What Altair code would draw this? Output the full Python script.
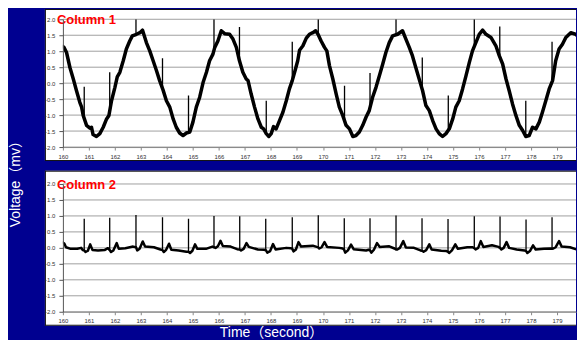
import altair as alt
import pandas as pd

BG = "#000090"

# ---------------- data ----------------
x_ticks = list(range(160, 180))
y_ticks = [-2.0, -1.5, -1.0, -0.5, 0.0, 0.5, 1.0, 1.5, 2.0]

# Column 1 : slow trace
t1 = [160.00, 160.04, 160.14, 160.27, 160.40, 160.52, 160.65, 160.72, 160.78, 160.91,
      161.04, 161.10, 161.16, 161.29, 161.42, 161.55, 161.68, 161.77, 161.87, 162.00,
      162.09, 162.19, 162.32, 162.44, 162.57, 162.67, 162.83, 162.96, 163.06, 163.15,
      163.21, 163.34, 163.47, 163.60, 163.72, 163.85, 163.98, 164.11, 164.24, 164.36,
      164.49, 164.62, 164.75, 164.88, 165.00, 165.13, 165.26, 165.39, 165.52, 165.64,
      165.77, 165.84, 165.96, 166.09, 166.22, 166.41, 166.54, 166.67, 166.79, 166.92,
      167.05, 167.12, 167.24, 167.37, 167.50, 167.63, 167.72, 167.82, 167.92, 168.01,
      168.10, 168.20, 168.33, 168.46, 168.59, 168.71, 168.82, 168.91, 169.03, 169.10,
      169.23, 169.36, 169.48, 169.61, 169.72, 169.81, 169.93, 170.06, 170.15, 170.25,
      170.38, 170.51, 170.63, 170.76, 170.89, 171.02, 171.15, 171.27, 171.40, 171.53,
      171.66, 171.78, 171.91, 172.04, 172.17, 172.30, 172.42, 172.55, 172.68, 172.87,
      173.06, 173.19, 173.32, 173.44, 173.57, 173.70, 173.83, 173.96, 174.09, 174.22,
      174.35, 174.47, 174.60, 174.73, 174.86, 174.99, 175.11, 175.24, 175.37, 175.50,
      175.63, 175.75, 175.88, 176.01, 176.14, 176.27, 176.46, 176.65, 176.78, 176.91,
      177.04, 177.16, 177.29, 177.42, 177.55, 177.68, 177.80, 177.93, 178.06, 178.19,
      178.32, 178.44, 178.57, 178.70, 178.83, 178.95, 179.08, 179.21, 179.34, 179.53,
      179.72, 179.85, 180.00]
v1 = [1.15, 1.12, 0.96, 0.49, 0.13, -0.23, -0.60, -0.75, -1.01, -1.32,
      -1.41, -1.38, -1.61, -1.67, -1.58, -1.38, -1.12, -1.01, -0.55, -0.13,
      0.20, 0.34, 0.70, 1.07, 1.32, 1.48, 1.53, 1.58, 1.66, 1.43,
      1.27, 1.01, 0.70, 0.39, 0.08, -0.21, -0.55, -0.75, -1.12, -1.38,
      -1.56, -1.64, -1.56, -1.53, -1.22, -0.75, -0.44, 0.02, 0.34, 0.70,
      0.91, 1.12, 1.32, 1.64, 1.55, 1.53, 1.38, 1.12, 0.70, 0.34,
      0.13, 0.08, -0.34, -0.75, -1.12, -1.38, -1.43, -1.58, -1.67, -1.58,
      -1.36, -1.43, -1.17, -0.91, -0.55, -0.18, 0.08, 0.34, 0.70, 1.03,
      1.17, 1.41, 1.53, 1.58, 1.64, 1.53, 1.32, 1.12, 1.01, 0.55,
      0.13, -0.34, -0.75, -1.01, -1.32, -1.43, -1.67, -1.64, -1.53, -1.32,
      -1.06, -0.86, -0.44, -0.13, 0.23, 0.60, 0.96, 1.27, 1.48, 1.53,
      1.64, 1.38, 1.12, 0.86, 0.49, 0.13, -0.23, -0.70, -0.86, -1.17,
      -1.43, -1.58, -1.67, -1.58, -1.43, -1.12, -0.75, -0.55, -0.18, 0.23,
      0.65, 1.01, 1.27, 1.53, 1.66, 1.53, 1.43, 1.17, 0.86, 0.60,
      0.13, -0.23, -0.65, -1.01, -1.32, -1.48, -1.67, -1.64, -1.38, -1.43,
      -1.22, -0.91, -0.55, -0.18, 0.08, 0.70, 1.07, 1.22, 1.43, 1.58,
      1.53, 1.43, 1.12]

# Column 1 : spikes
s1_t = [160.82, 161.80, 162.81, 163.83, 164.83, 165.81, 166.79, 167.82, 168.82, 169.82,
        170.83, 171.81, 172.81, 173.82, 174.82, 175.82, 176.80, 177.80, 178.81, 179.82]
s1_base = [-1.10, -0.90, 1.53, -0.17, -1.54, 1.00, 0.70, -1.58, 0.08, 1.52,
           -1.15, -0.78, 1.52, -0.20, -1.48, 1.15, 0.82, -1.67, 0.05, 1.45]
s1_top = [-0.11, 0.34, 2.00, 0.78, -0.39, 2.00, 1.76, -0.55, 1.30, 2.00,
          -0.08, 0.32, 2.00, 0.80, -0.39, 2.00, 1.77, -0.55, 1.30, 2.00]

# Column 2 : slow trace
t2 = [160.00, 160.05, 160.12, 160.30, 160.55, 160.70, 160.77, 160.82, 160.87, 160.96,
      161.05, 161.14, 161.35, 161.60, 161.73, 161.80, 161.85, 161.94, 162.07, 162.15,
      162.40, 162.70, 162.81, 162.86, 162.95, 163.07, 163.16, 163.50, 163.75, 163.83,
      163.88, 163.97, 164.08, 164.17, 164.45, 164.75, 164.83, 164.89, 164.98, 165.08,
      165.17, 165.50, 165.75, 165.81, 165.87, 165.96, 166.06, 166.15, 166.45, 166.70,
      166.80, 166.85, 166.95, 167.06, 167.15, 167.50, 167.75, 167.81, 167.86, 167.97,
      168.08, 168.18, 168.59, 168.76, 168.82, 168.87, 168.96, 169.06, 169.16, 169.61,
      169.76, 169.81, 169.86, 169.95, 170.06, 170.16, 170.63, 170.76, 170.81, 170.86,
      170.96, 171.08, 171.18, 171.66, 171.76, 171.81, 171.86, 171.96, 172.08, 172.18,
      172.55, 172.75, 172.81, 172.86, 172.96, 173.09, 173.19, 173.50, 173.75, 173.81,
      173.87, 173.97, 174.09, 174.18, 174.55, 174.75, 174.80, 174.85, 174.96, 175.09,
      175.19, 175.55, 175.76, 175.82, 175.87, 175.97, 176.07, 176.17, 176.50, 176.75,
      176.81, 176.86, 176.95, 177.06, 177.16, 177.45, 177.75, 177.81, 177.86, 177.96,
      178.08, 178.18, 178.50, 178.76, 178.81, 178.86, 178.95, 179.08, 179.18, 179.50,
      179.75, 179.82, 179.87, 179.97, 180.00]
v2 = [0.17, 0.14, 0.02, -0.03, -0.03, 0.00, -0.07, -0.08, -0.13, -0.09,
      0.11, -0.07, -0.08, -0.07, -0.01, -0.07, -0.13, -0.08, 0.15, -0.03,
      -0.01, 0.04, 0.02, -0.08, -0.03, 0.20, 0.04, 0.02, -0.05, -0.07,
      -0.13, -0.06, 0.13, -0.06, -0.08, -0.12, -0.12, -0.16, -0.09, 0.11,
      -0.03, -0.03, 0.04, 0.02, 0.00, 0.05, 0.22, 0.06, 0.04, -0.04,
      -0.05, -0.08, -0.03, 0.15, 0.03, -0.05, -0.06, -0.08, -0.15, -0.10,
      0.12, -0.05, 0.00, -0.01, -0.03, -0.11, -0.05, 0.18, 0.04, 0.07,
      0.03, 0.02, -0.02, 0.02, 0.18, 0.03, 0.00, -0.02, -0.05, -0.15,
      -0.08, 0.10, -0.04, -0.08, -0.06, -0.08, -0.15, -0.06, 0.15, 0.03,
      0.05, -0.02, -0.05, -0.05, 0.00, 0.21, 0.01, 0.00, -0.08, -0.09,
      -0.12, -0.07, 0.11, -0.05, -0.09, -0.10, -0.12, -0.16, -0.08, 0.11,
      -0.03, 0.02, 0.02, -0.01, -0.05, 0.00, 0.21, 0.03, 0.08, 0.03,
      0.00, -0.05, 0.00, 0.18, 0.00, -0.05, -0.08, -0.10, -0.16, -0.10,
      0.08, -0.05, -0.03, -0.02, -0.03, -0.02, 0.02, 0.21, 0.04, 0.02,
      -0.05, -0.05, -0.05, 0.00, 0.02]

# Column 2 : spikes
s2_t = [160.82, 161.80, 162.81, 163.83, 164.83, 165.81, 166.80, 167.80, 168.82, 169.82,
        170.82, 171.81, 172.81, 173.81, 174.81, 175.82, 176.81, 177.81, 178.81, 179.81]
s2_base = [-0.08, -0.07, 0.02, -0.07, -0.12, 0.02, -0.05, -0.08, -0.03, 0.02,
           -0.05, -0.08, -0.05, -0.09, -0.12, -0.01, 0.00, -0.10, -0.03, -0.05]
s2_top = [0.91, 0.94, 1.03, 0.96, 0.91, 1.00, 0.99, 0.91, 0.96, 1.02,
          0.93, 0.93, 1.01, 0.93, 0.90, 0.99, 0.98, 0.89, 0.96, 0.98]

# ---------------- chart ----------------
W, H = 514, 128                     # 26.05 px per second, cut at the window edge
X_END = 160 + W / 26.05
FONT = "Liberation Sans, Arial, Noto Sans CJK JP"

xs = alt.Scale(domain=[160, X_END], nice=False, zero=False)
ys = alt.Scale(domain=[-2, 2], nice=False, zero=False)

x_axis = alt.Axis(values=x_ticks, format="d", title=None, grid=False, labelFontSize=6,
                  labelColor="#333333", labelFont=FONT, tickSize=3, tickColor="#888888",
                  domainColor="#888888", labelPadding=3, labelFlush=False,
                  labelOverlap=False, zindex=1)
y_axis = alt.Axis(values=y_ticks, format=".1f", title=None, grid=False, labelFontSize=6,
                  labelColor="#333333", labelFont=FONT, tickSize=4, tickColor="#555555",
                  domainColor="#555555", labelPadding=4, labelFlush=False,
                  labelOverlap=False, zindex=1,
                  labelExpr="replace(datum.label, '\u2212', '-')")

one = pd.DataFrame({"a": [0]})


def panel(t, v, st, sb, stop, label, lw, box_top, extras):
    trace = pd.DataFrame({"t": t, "v": v})
    spikes = pd.DataFrame({"t": st, "base": sb, "top": stop})
    grid = pd.DataFrame({"v": y_ticks})
    box_bot = H + 14

    box = alt.Chart(one).mark_rect(fill="white").encode(
        x=alt.value(-18), x2=alt.value(W), y=alt.value(box_top), y2=alt.value(box_bot))
    e_top = alt.Chart(one).mark_rule(color="#111111", strokeWidth=1).encode(
        x=alt.value(-18), x2=alt.value(W), y=alt.value(box_top + 0.5))
    e_bot = alt.Chart(one).mark_rule(color="#111111", strokeWidth=1).encode(
        x=alt.value(-18), x2=alt.value(W), y=alt.value(box_bot - 0.5))
    e_left = alt.Chart(one).mark_rule(color="#111111", strokeWidth=1).encode(
        x=alt.value(-17.5), y=alt.value(box_top), y2=alt.value(box_bot))
    gridl = alt.Chart(grid).mark_rule(color="#a0a0a0", strokeWidth=1).encode(
        y=alt.Y("v:Q", scale=ys, axis=y_axis))
    line = alt.Chart(trace).mark_line(color="black", strokeWidth=lw, strokeJoin="round",
                                      strokeCap="round", clip=True).encode(
        x=alt.X("t:Q", scale=xs, axis=x_axis),
        y=alt.Y("v:Q", scale=ys, axis=y_axis))
    spk = alt.Chart(spikes).mark_rule(color="black", strokeWidth=1.3, clip=True).encode(
        x=alt.X("t:Q", scale=xs, axis=x_axis),
        y=alt.Y("base:Q", scale=ys, axis=y_axis),
        y2="top:Q")
    lab = alt.Chart(one).mark_text(text=label, color="#ff0000", fontSize=13,
                                   fontWeight="bold", font=FONT, align="left",
                                   baseline="alphabetic").encode(
        x=alt.value(-6), y=alt.value(4.6))
    return alt.layer(box, e_top, e_bot, e_left, gridl, line, spk, lab, *extras).properties(
        width=W, height=H)


anchor = alt.Chart(one).mark_rect(fill=BG).encode(
    x=alt.value(-55), x2=alt.value(-54), y=alt.value(0), y2=alt.value(1))
vtitle = alt.Chart(one).mark_text(text="Voltage（mv）", color="white", fontSize=14,
                                  font=FONT, angle=270, align="center",
                                  baseline="middle").encode(
    x=alt.value(-46.5), y=alt.value(161.7))
ttitle = alt.Chart(one).mark_text(text="Time（second）", color="white", fontSize=14,
                                  font=FONT, align="center", baseline="middle").encode(
    x=alt.value(209), y=alt.value(149.7))

p1 = panel(t1, v1, s1_t, s1_base, s1_top, "Column 1", 3.5, -10.3, [anchor, vtitle])
p2 = panel(t2, v2, s2_t, s2_base, s2_top, "Column 2", 2.5, -13.3, [ttitle])

chart = alt.VConcatChart(vconcat=[p1, p2], spacing=37, bounds="flush").properties(
    background=BG, padding=0
).configure_view(stroke=None)

chart.save("out.html", embed_options={"renderer": "svg", "actions": False})
